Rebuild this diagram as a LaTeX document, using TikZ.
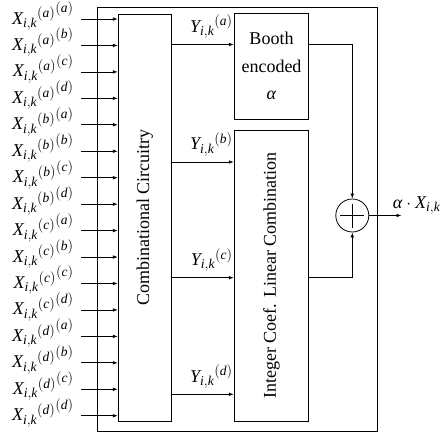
\documentclass[tikz,border=0pt]{standalone}
\usepackage{fontspec}
\setmainfont{Liberation Serif}
\DeclareMathSizes{18}{18}{13.5}{10}
\usetikzlibrary{arrows.meta}
\begin{document}
\begin{tikzpicture}[x=1pt,y=-1pt,
  font=\fontsize{18}{27.5}\selectfont,
  line width=0.8pt,
  boxnode/.style={draw, inner sep=0pt},
  arr/.style={-{Latex[length=5pt,width=3.6pt]}},
  xlab/.style={anchor=base east, inner sep=0pt},
  ylab/.style={anchor=base east, inner sep=0pt}]
\useasboundingbox (0,0) rectangle (440,434);
% boxes
\node[boxnode, minimum width=280.4pt, minimum height=424.2pt] (outer) at (237.5,219.6) {};
\node[boxnode, minimum width=53.2pt, minimum height=407pt] (comb) at (144.9,217.5) {};
\node[rotate=90] (combt) at (comb.center) {Combinational Circuitry};
\node[boxnode, minimum width=74.4pt, minimum height=105.5pt] (booth) at (271.5,66.25) {};
\node[align=center, inner sep=0pt] (bootht) at (booth.center) {Booth\\encoded\\\textit{α}};
\node[boxnode, minimum width=74.4pt, minimum height=291pt] (intb) at (271.5,275.5) {};
\node[rotate=90] (intt) at (intb.center) {Integer Coef. Linear Combination};
% adder
\node[draw, circle, minimum size=33pt, inner sep=0pt] (sum) at (352.3,215.5) {};
\draw (sum.center) ++(-12,0) -- ++(24,0);
\draw (sum.center) ++(0,-12) -- ++(0,24);
% inputs
\foreach \p [count=\i from 0] in {a,b,c,d} {
  \foreach \q [count=\j from 0] in {a,b,c,d} {
    \pgfmathsetmacro\yy{19+26.45*(4*\i+\j)}
    \coordinate (s-\p\q) at (81,\yy);
    \draw[arr] (s-\p\q) -- (s-\p\q -| comb.west);
    \node[xlab] (xl-\p\q) at (74,\yy+5) {${{\mathit{X}_{\mathit{i,k}}}^{(\mathit{\p})}}^{(\mathit{\q})}$};
  }
}
% Y connections
\coordinate (ya) at (0,44.5);
\coordinate (yb) at (0,162);
\coordinate (yc) at (0,277.7);
\coordinate (yd) at (0,394.3);
\draw[arr] (comb.east |- ya) -- (booth.west |- ya);
\draw[arr] (comb.east |- yb) -- (intb.west |- yb);
\draw[arr] (comb.east |- yc) -- (intb.west |- yc);
\draw[arr] (comb.east |- yd) -- (intb.west |- yd);
\node[ylab] (yla) at (233,32.2) {${\mathit{Y}_{\mathit{i,k}}}^{(\mathit{a})}$};
\node[ylab] (ylb) at (233,149.7) {${\mathit{Y}_{\mathit{i,k}}}^{(\mathit{b})}$};
\node[ylab] (ylc) at (233,265.4) {${\mathit{Y}_{\mathit{i,k}}}^{(\mathit{c})}$};
\node[ylab] (yld) at (233,382) {${\mathit{Y}_{\mathit{i,k}}}^{(\mathit{d})}$};
% to adder
\draw[arr] (booth.east |- ya) -| (sum.north);
\draw[arr] (intb.east |- yc) -| (sum.south);
\coordinate (outend) at (401.5,215.5);
\draw[arr] (sum.east) -- (outend);
\node[anchor=base west, inner sep=0pt] (outl) at (392.5,208.5) {\textit{α}${}\cdot{}\mathit{X}_{\mathit{i,k}}$};
\end{tikzpicture}
\end{document}
